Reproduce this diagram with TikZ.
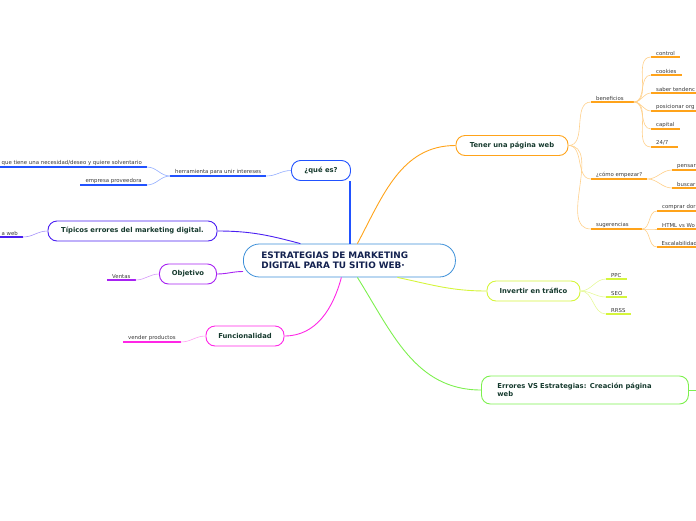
\documentclass[tikz,border=0pt]{standalone}
\usepackage{fontspec}
\setmainfont{DejaVu Sans}
\begin{document}
\begin{tikzpicture}[x=1pt,y=-1pt,
  hub/.style={anchor=west,draw=core,line width=.8pt,rounded corners=16pt,minimum height=33pt,
    text width=176pt,inner xsep=18pt,align=left,font=\bfseries\fontsize{8.9}{10}\selectfont,text=navy},
  topic/.style={draw,line width=.9pt,rounded corners=9pt,minimum height=20pt,inner sep=0pt,
    font=\bfseries\fontsize{6.8}{7.6}\selectfont,text=deep},
  leaf/.style={anchor=south west,inner xsep=5pt,inner ysep=1.6pt,font=\fontsize{5.4}{6}\selectfont,text=ink},
  stem/.style={line width=.9pt},
  twig/.style={line width=.6pt},
  ul/.style={line width=1.5pt}]
\definecolor{ink}{HTML}{3A3A3A}\definecolor{deep}{HTML}{163A2E}
\definecolor{navy}{HTML}{13214F}\definecolor{core}{HTML}{3C8FD8}
\definecolor{orng}{HTML}{FFA31A}\definecolor{orngii}{HTML}{FFD08A}
\definecolor{lime}{HTML}{D5F53C}\definecolor{limeii}{HTML}{E6F99A}
\definecolor{grn}{HTML}{7DF04E}
\definecolor{blu}{HTML}{2152FF}\definecolor{bluii}{HTML}{94AEFF}
\definecolor{ind}{HTML}{4A1FF2}\definecolor{indii}{HTML}{A592FA}
\definecolor{pur}{HTML}{A722F2}\definecolor{purii}{HTML}{D69AF9}
\definecolor{mag}{HTML}{FF26E6}\definecolor{magii}{HTML}{FF9EF2}
\useasboundingbox (0,0) rectangle (696,520);
% centre
\node[hub] (hub) at (243,260.5) {ESTRATEGIAS DE MARKETING\\DIGITAL PARA TU SITIO WEB·};
% main topics
\node[topic,draw=orng,minimum width=112pt] (web) at (512,145.5) {Tener una página web};
\node[topic,draw=lime,minimum width=93pt] (traf) at (533.5,291) {Invertir en tráfico};
\node[topic,draw=grn,anchor=west,minimum height=28pt,text width=175pt,inner xsep=16pt,align=left] (err) at (481,390) {Errores VS Estrategias: Creación página\\web};
\node[topic,draw=blu,minimum width=59pt] (que) at (321,170.5) {¿qué es?};
\node[topic,draw=ind,minimum width=169pt] (tip) at (132.5,231) {Típicos errores del marketing digital.};
\node[topic,draw=pur,minimum width=57pt] (obj) at (188,274) {Objetivo};
\node[topic,draw=mag,minimum width=78pt] (fun) at (245,336) {Funcionalidad};
\coordinate (errx) at (706,390);
\draw[stem,orng] ([xshift=8pt]hub.north) to[out=62,in=180] (web.west);
\draw[stem,lime] ([xshift=48pt]hub.south) to[out=-12,in=180] (traf.west);
\draw[stem,grn] ([xshift=8pt]hub.south) to[out=-58,in=180] (err.west);
\draw[stem,grn] (err.east) -- (errx);
\draw[line width=1.2pt,blu] ([xshift=.5pt]hub.north) -- ([xshift=.5pt]hub.north |- que.south);
\draw[stem,ind] ([xshift=-49pt]hub.north) to[out=165,in=0] (tip.east);
\draw[stem,pur] ([yshift=-11pt]hub.west) to[out=180,in=0] (obj.east);
\draw[stem,mag] ([xshift=-8pt]hub.south) to[out=-105,in=0] (fun.east);
% Tener una pagina web
\node[leaf] (ben) at (591,102) {beneficios};
\node[leaf] (emp) at (591,179) {¿cómo empezar?};
\node[leaf] (sug) at (591,229) {sugerencias};
\node[leaf] (ctl) at (651,57) {control};
\node[leaf] (coo) at (651,75) {cookies};
\node[leaf] (sab) at (651,93) {saber tendenc};
\node[leaf] (pos) at (651,111) {posicionar org};
\node[leaf] (cap) at (651,129) {capital};
\node[leaf] (hrs) at (651,147) {24/7};
\node[leaf] (pen) at (672,170) {pensar};
\node[leaf] (bus) at (672,188) {buscar};
\node[leaf] (dom) at (657,211) {comprar dor};
\node[leaf] (wor) at (657,229) {HTML vs Wo};
\node[leaf,inner xsep=4.5pt] (esc) at (657,247) {Escalabilidad};
\draw[ul,orng] (ben.south west) -- ([xshift=5pt]ben.south east);
\draw[ul,orng] (emp.south west) -- (emp.south east);
\draw[ul,orng] (sug.south west) -- ([xshift=8pt]sug.south east);
\draw[ul,orng] (ctl.south west) -- (ctl.south east);
\draw[ul,orng] (coo.south west) -- (coo.south east);
\draw[ul,orng] (sab.south west) -- ([xshift=20pt]sab.south east);
\draw[ul,orng] (pos.south west) -- ([xshift=20pt]pos.south east);
\draw[ul,orng] (cap.south west) -- (cap.south east);
\draw[ul,orng] (hrs.south west) -- ([xshift=4pt]hrs.south east);
\draw[ul,orng] (pen.south west) -- ([xshift=20pt]pen.south east);
\draw[ul,orng] (bus.south west) -- ([xshift=20pt]bus.south east);
\draw[ul,orng] (dom.south west) -- ([xshift=20pt]dom.south east);
\draw[ul,orng] (wor.south west) -- ([xshift=20pt]wor.south east);
\draw[ul,orng] (esc.south west) -- ([xshift=20pt]esc.south east);
\draw[twig,orngii] (web.east) to[out=0,in=180] (ben.south west);
\draw[twig,orngii] (web.east) to[out=0,in=180] (emp.south west);
\draw[twig,orngii] (web.east) to[out=0,in=180] (sug.south west);
\draw[twig,orngii] ([xshift=5pt]ben.south east) to[out=0,in=180] (ctl.south west);
\draw[twig,orngii] ([xshift=5pt]ben.south east) to[out=0,in=180] (coo.south west);
\draw[twig,orngii] ([xshift=5pt]ben.south east) to[out=0,in=180] (sab.south west);
\draw[twig,orngii] ([xshift=5pt]ben.south east) to[out=0,in=180] (pos.south west);
\draw[twig,orngii] ([xshift=5pt]ben.south east) to[out=0,in=180] (cap.south west);
\draw[twig,orngii] ([xshift=5pt]ben.south east) to[out=0,in=180] (hrs.south west);
\draw[twig,orngii] (emp.south east) to[out=0,in=180] (pen.south west);
\draw[twig,orngii] (emp.south east) to[out=0,in=180] (bus.south west);
\draw[twig,orngii] ([xshift=8pt]sug.south east) to[out=0,in=180] (dom.south west);
\draw[twig,orngii] ([xshift=8pt]sug.south east) to[out=0,in=180] (wor.south west);
\draw[twig,orngii] ([xshift=8pt]sug.south east) to[out=0,in=180] (esc.south west);
% Invertir en trafico
\node[leaf] (ppc) at (606,279) {PPC};
\node[leaf] (seo) at (606,297) {SEO};
\node[leaf] (rss) at (606,314) {RRSS};
\draw[ul,lime] (ppc.south west) -- (ppc.south east);
\draw[ul,lime] (seo.south west) -- (seo.south east);
\draw[ul,lime] (rss.south west) -- (rss.south east);
\draw[twig,limeii] (traf.east) to[out=0,in=180] (ppc.south west);
\draw[twig,limeii] (traf.east) to[out=0,in=180] (seo.south west);
\draw[twig,limeii] (traf.east) to[out=0,in=180] (rss.south west);
% que es
\node[leaf] (her) at (170,176) {herramienta para unir intereses};
\node[leaf,anchor=south east] (nec) at (147,167) {que tiene una necesidad/deseo y quiere solventario};
\node[leaf,anchor=south east] (pro) at (147,185) {empresa proveedora};
\draw[ul,blu] (her.south west) -- (her.south east);
\draw[ul,blu] ([xshift=-20pt]nec.south west) -- (nec.south east);
\draw[ul,blu] (pro.south west) -- (pro.south east);
\draw[twig,bluii] (que.west) to[out=180,in=0] (her.south east);
\draw[twig,bluii] (her.south west) to[out=180,in=0] (nec.south east);
\draw[twig,bluii] (her.south west) to[out=180,in=0] (pro.south east);
% tipicos errores, objetivo, funcionalidad
\node[leaf,anchor=south east] (tipw) at (23,237) {a web};
\node[leaf] (ven) at (107,280) {Ventas};
\node[leaf] (vnd) at (123,342) {vender productos};
\draw[ul,ind] ([xshift=-20pt]tipw.south west) -- (tipw.south east);
\draw[ul,pur] (ven.south west) -- (ven.south east);
\draw[ul,mag] (vnd.south west) -- (vnd.south east);
\draw[twig,indii] (tip.west) to[out=180,in=0] (tipw.south east);
\draw[twig,purii] (obj.west) to[out=180,in=0] (ven.south east);
\draw[twig,magii] (fun.west) to[out=180,in=0] (vnd.south east);
\end{tikzpicture}
\end{document}
